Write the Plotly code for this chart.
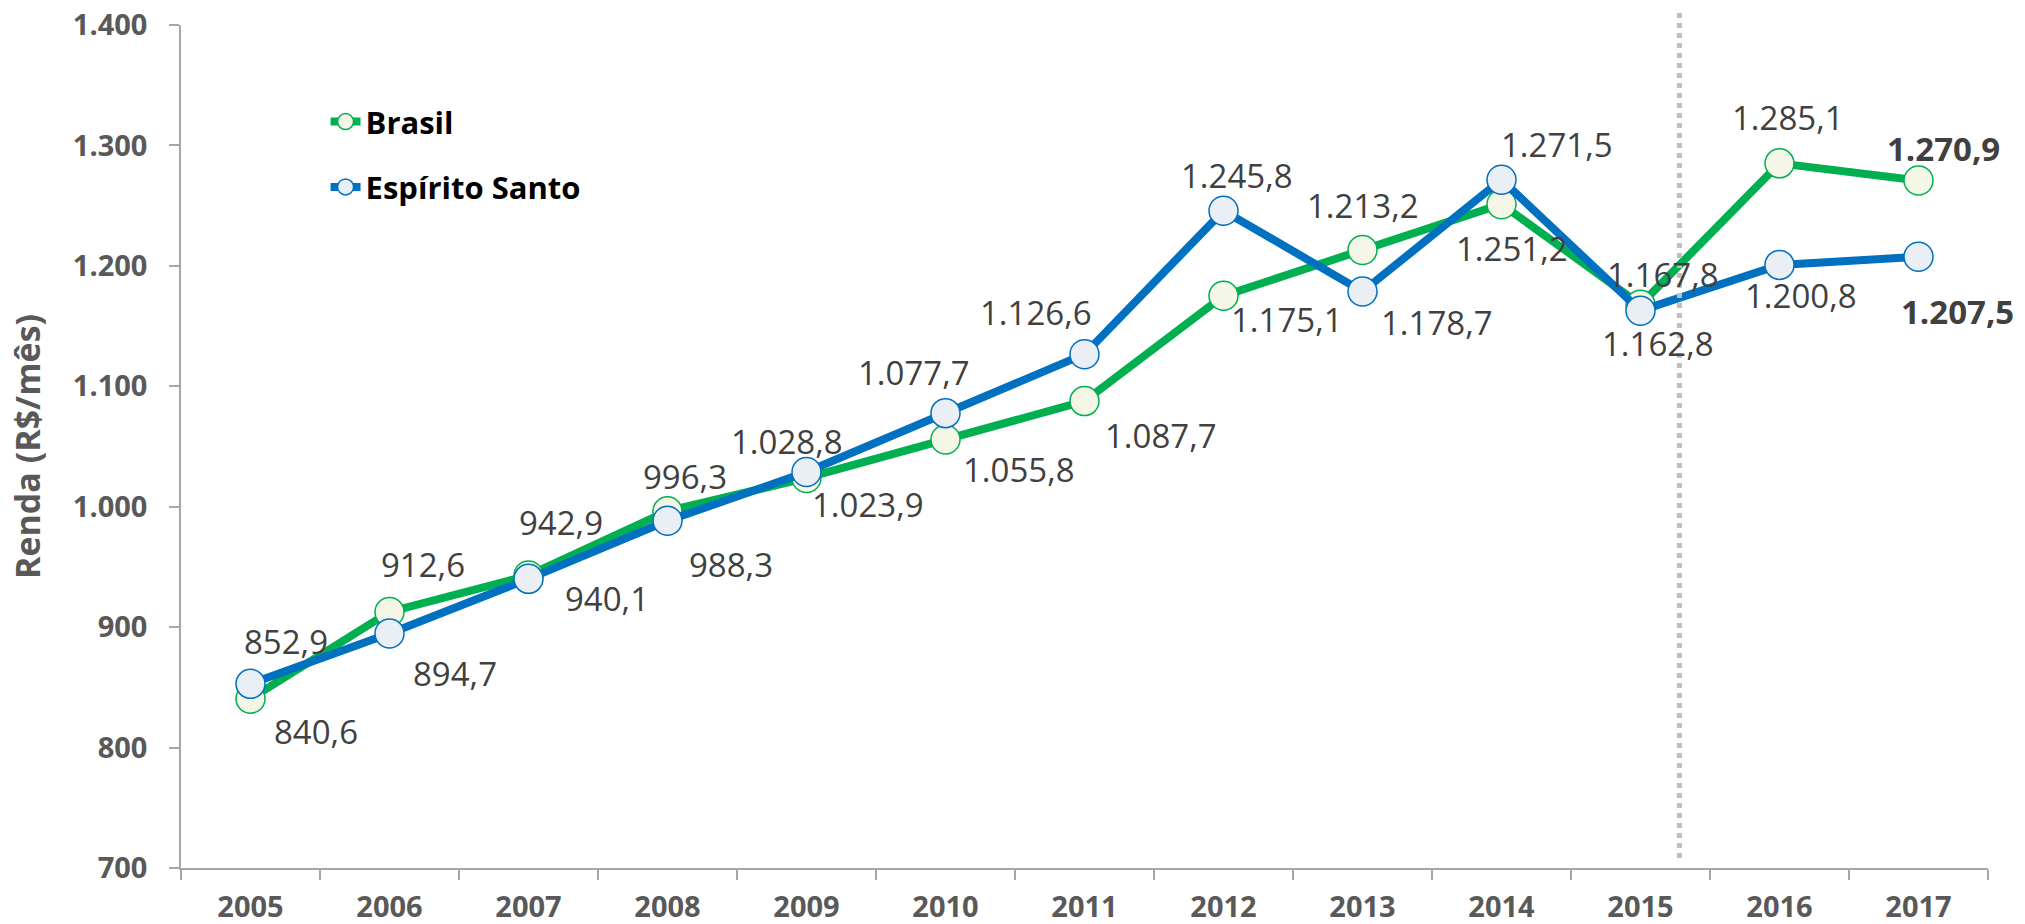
import plotly.graph_objects as go

years = ["2005", "2006", "2007", "2008", "2009", "2010", "2011",
         "2012", "2013", "2014", "2015", "2016", "2017"]
brasil = [840.6, 912.6, 942.9, 996.3, 1023.9, 1055.8, 1087.7,
          1175.1, 1213.2, 1251.2, 1167.8, 1285.1, 1270.9]
espirito_santo = [852.9, 894.7, 940.1, 988.3, 1028.8, 1077.7, 1126.6,
                  1245.8, 1178.7, 1271.5, 1162.8, 1200.8, 1207.5]
y_ticks = [700, 800, 900, 1000, 1100, 1200, 1300, 1400]
y_tick_labels = ["700", "800", "900", "1.000", "1.100", "1.200", "1.300", "1.400"]

# label offsets (pixels, dx right, dy down) - styling only
brasil_off = [(65, 33), (33, -47), (32, -53), (17, -35), (61, 27), (73, 30), (76, 34),
              (63, 24), (0, -44), (10, 44), (22, -30), (8, -46), (25, -32)]
es_off = [(35, -42), (65, 40), (78, 20), (63, 44), (-20, -31), (-32, -41), (-49, -42),
          (13, -35), (74, 31), (55, -35), (17, 33), (21, 31), (39, 55)]
divider_pos = 10.28  # position of the dotted divider, in category units

GREEN = "#00B050"
BLUE = "#0070C0"
FONT = "Open Sans"


def fmt(v):
    s = f"{v:,.1f}"
    return s.replace(",", "X").replace(".", ",").replace("X", ".")


fig = go.Figure()
fig.add_trace(go.Scatter(
    x=years, y=brasil, name="Brasil", mode="lines+markers",
    line=dict(color=GREEN, width=8),
    marker=dict(size=29, color="#F4F7E5", line=dict(color=GREEN, width=1.5)),
    legendgroup="a",
))
fig.add_trace(go.Scatter(
    x=years, y=espirito_santo, name="Espírito Santo", mode="lines+markers",
    line=dict(color=BLUE, width=8),
    marker=dict(size=29, color="#EAEFF5", line=dict(color=BLUE, width=1.5)),
    legendgroup="b",
))

for series, offs in ((brasil, brasil_off), (espirito_santo, es_off)):
    n = len(series)
    for i, v in enumerate(series):
        txt = f"<b>{fmt(v)}</b>" if i == n - 1 else fmt(v)
        dx, dy = offs[i]
        fig.add_annotation(
            x=i, y=v, xref="x", yref="y", text=txt, showarrow=False,
            xshift=dx, yshift=-dy,
            font=dict(family=FONT, size=33, color="#404040"),
        )

fig.add_shape(
    type="line", xref="x", yref="paper",
    x0=divider_pos, x1=divider_pos, y0=0.012, y1=1.015,
    line=dict(color="#BFBFBF", width=5, dash="dot"),
)

fig.update_layout(
    width=2025, height=924,
    margin=dict(l=181, r=37, t=25, b=56, autoexpand=False),
    paper_bgcolor="white", plot_bgcolor="white",
    showlegend=True,
    legend=dict(
        x=0.080, y=0.917, xanchor="left", yanchor="top",
        font=dict(family=FONT, size=31, color="black", weight="bold"),
        tracegroupgap=22, bgcolor="rgba(0,0,0,0)",
    ),
    xaxis=dict(
        type="category", range=[-0.5, 12.5],
        showline=True, linecolor="#A6A6A6", linewidth=1.5,
        ticks="outside", tickson="boundaries", ticklen=10, tickcolor="#A6A6A6", tickwidth=1.5,
        showgrid=False, zeroline=False,
        tickfont=dict(family=FONT, size=29, color="#595959", weight="bold"),
        ticklabelstandoff=12,
    ),
    yaxis=dict(
        range=[700, 1400], tickvals=y_ticks, ticktext=y_tick_labels,
        showline=True, linecolor="#A6A6A6", linewidth=1.5,
        ticks="outside", ticklen=10, tickcolor="#A6A6A6", tickwidth=1.5,
        showgrid=False, zeroline=False,
        tickfont=dict(family=FONT, size=29, color="#595959", weight="bold"),
        ticklabelstandoff=16,
        title=dict(text="Renda (R$/mês)", standoff=22,
                   font=dict(family=FONT, size=34, color="#595959", weight="bold")),
    ),
)

fig.write_html("out.html")
